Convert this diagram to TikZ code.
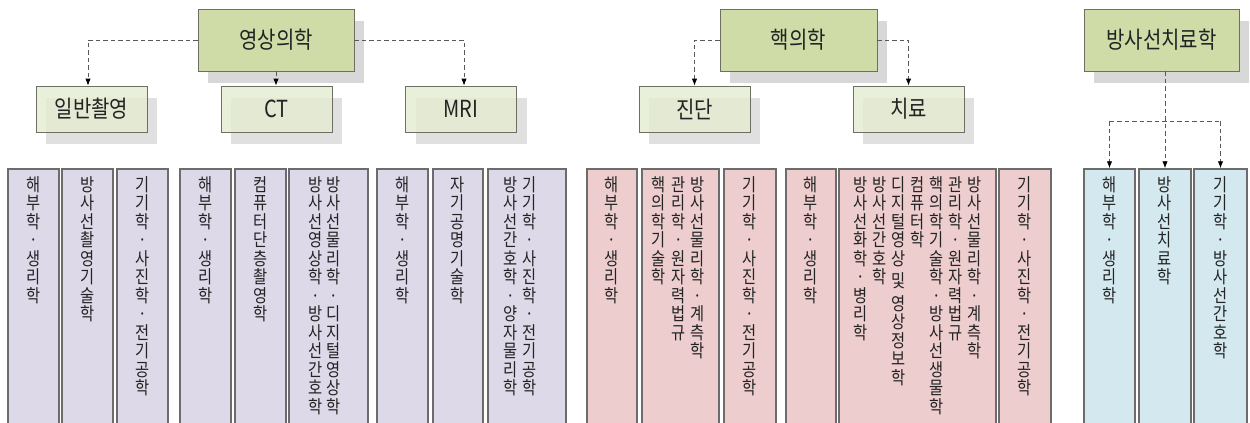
\documentclass[tikz,border=0pt]{standalone}
\usepackage{fontspec}
\setmainfont{Noto Sans CJK KR}
\newfontfamily\krn[FakeStretch=0.85]{Noto Sans CJK KR}
\usetikzlibrary{shadows,arrows.meta}
\definecolor{hdr}{RGB}{207,220,168}
\definecolor{sub}{RGB}{228,236,208}
\definecolor{shd}{RGB}{216,216,216}
\definecolor{lav}{RGB}{222,217,233}
\definecolor{pnk}{RGB}{237,205,205}
\definecolor{blu}{RGB}{211,233,239}
\definecolor{bord}{RGB}{110,110,100}
\definecolor{txt}{RGB}{35,35,35}
\def\SP{SP}
\newcommand\VT[1]{\vtop{\baselineskip=18.5bp\lineskiplimit=-50bp\lineskip=0pt\VTi#1\relax}}
\def\VTi#1{\ifx\relax#1\else\VTone{#1}\expandafter\VTi\fi}
\def\VTone#1{\ifx\SP#1\vskip4bp\relax\else\hbox to 1em{\hss#1\hss}\fi}
\tikzset{
  hdrbox/.style={draw=bord, line width=0.8bp, fill=hdr, minimum width=156bp, minimum height=62bp,
    inner sep=0pt, font=\krn\fontsize{23.5bp}{25bp}\selectfont, text=txt,
    general shadow={fill=shd, shadow xshift=10bp, shadow yshift=-12bp}},
  subbox/.style={draw=bord, line width=0.8bp, fill=sub, fill opacity=0.78, text opacity=1,
    minimum width=111bp, minimum height=46bp, inner sep=0pt,
    font=\krn\fontsize{23.5bp}{25bp}\selectfont, text=txt,
    general shadow={fill=shd, shadow xshift=10bp, shadow yshift=-12bp}},
  colbox/.style={draw=gray!85!black, line width=1.5bp, minimum height=271bp, inner sep=0pt},
  vt/.style={anchor=base, inner sep=0pt, font=\krn\fontsize{18bp}{18.5bp}\selectfont, text=txt},
  dline/.style={draw=gray!70!black, line width=0.9bp, dash pattern=on 4.5bp off 3bp},
  conn/.style={dline, -{Latex[length=7bp,width=5.5bp,color=black]}}
}
\begin{document}
\begin{tikzpicture}[x=1bp,y=-1bp]
\useasboundingbox (0,0) rectangle (1250,422);
\clip (0,0) rectangle (1250,422);
\fill[white] (0,0) rectangle (1250,422);
% header boxes
\node[hdrbox] (ys) at (276,40) {영상의학};
\node[hdrbox, minimum width=157bp] (hk) at (798.5,40) {핵의학};
\node[hdrbox, minimum width=155bp] (rt) at (1161.5,40) {방사선치료학};
% sub boxes
\node[subbox] (ilban) at (91.5,109) {일반촬영};
\node[subbox] (ct) at (276.5,109) {CT};
\node[subbox] (mri) at (461,109) {MRI};
\node[subbox] (jd) at (694.5,109) {진단};
\node[subbox] (cr) at (908.5,109) {치료};
% column boxes
\node[colbox, fill=lav, minimum width=51bp] (p1) at (33.5,304.5) {};
\node[colbox, fill=lav, minimum width=51bp] (p2) at (87.5,304.5) {};
\node[colbox, fill=lav, minimum width=51bp] (p3) at (142.5,304.5) {};
\node[colbox, fill=lav, minimum width=51bp] (p4) at (205.5,304.5) {};
\node[colbox, fill=lav, minimum width=51bp] (p5) at (260.5,304.5) {};
\node[colbox, fill=lav, minimum width=79bp] (p6) at (328.5,304.5) {};
\node[colbox, fill=lav, minimum width=51bp] (p7) at (402.5,304.5) {};
\node[colbox, fill=lav, minimum width=50bp] (p8) at (458,304.5) {};
\node[colbox, fill=lav, minimum width=78bp] (p9) at (527,304.5) {};
\node[colbox, fill=pnk, minimum width=50bp] (k1) at (612,304.5) {};
\node[colbox, fill=pnk, minimum width=77bp] (k2) at (680.5,304.5) {};
\node[colbox, fill=pnk, minimum width=52bp] (k3) at (750,304.5) {};
\node[colbox, fill=pnk, minimum width=50bp] (k4) at (811,304.5) {};
\node[colbox, fill=pnk, minimum width=157bp] (k5) at (917.5,304.5) {};
\node[colbox, fill=pnk, minimum width=52bp] (k6) at (1025,304.5) {};
\node[colbox, fill=blu, minimum width=51bp] (b1) at (1109.5,304.5) {};
\node[colbox, fill=blu, minimum width=52bp] (b2) at (1165,304.5) {};
\node[colbox, fill=blu, minimum width=53bp] (b3) at (1220.5,304.5) {};
% vertical texts
\node[vt] (tp1) at (33.5,191) {\VT{해부학·생리학}};
\node[vt] (tp2) at (87.5,191) {\VT{방사선촬영기술학}};
\node[vt] (tp3) at (142.5,191) {\VT{기기학·사진학·전기공학}};
\node[vt] (tp4) at (205.5,191) {\VT{해부학·생리학}};
\node[vt] (tp5) at (260.5,191) {\VT{컴퓨터단층촬영학}};
\node[vt] (tp6a) at (316,191) {\VT{방사선영상학·방사선간호학}};
\node[vt] (tp6b) at (334,191) {\VT{방사선물리학·디지털영상학}};
\node[vt] (tp7) at (402.5,191) {\VT{해부학·생리학}};
\node[vt] (tp8) at (458,191) {\VT{자기공명기술학}};
\node[vt] (tp9a) at (511,191) {\VT{방사선간호학·양자물리학}};
\node[vt] (tp9b) at (530,191) {\VT{기기학·사진학·전기공학}};
\node[vt] (tk1) at (612,191) {\VT{해부학·생리학}};
\node[vt] (tk2a) at (659,191) {\VT{핵의학기술학}};
\node[vt] (tk2b) at (679,191) {\VT{관리학·원자력법규}};
\node[vt] (tk2c) at (698,191) {\VT{방사선물리학·계측학}};
\node[vt] (tk3) at (750,191) {\VT{기기학·사진학·전기공학}};
\node[vt] (tk4) at (811,191) {\VT{해부학·생리학}};
\node[vt] (tk5a) at (861,191) {\VT{방사선화학·병리학}};
\node[vt] (tk5b) at (880,191) {\VT{방사선간호학}};
\node[vt] (tk5c) at (899,191) {\VT{디지털영상\SP 및\SP 영상정보학}};
\node[vt] (tk5d) at (918,191) {\VT{컴퓨터학}};
\node[vt] (tk5e) at (937,191) {\VT{핵의학기술학·방사선생물학}};
\node[vt] (tk5f) at (956,191) {\VT{관리학·원자력법규}};
\node[vt] (tk5g) at (975,191) {\VT{방사선물리학·계측학}};
\node[vt] (tk6) at (1025,191) {\VT{기기학·사진학·전기공학}};
\node[vt] (tb1) at (1109.5,191) {\VT{해부학·생리학}};
\node[vt] (tb2) at (1165,191) {\VT{방사선치료학}};
\node[vt] (tb3) at (1220.5,191) {\VT{기기학·방사선간호학}};
% connectors
\draw[conn] (ys.west) -| ([xshift=-3.5bp]ilban.north);
\draw[conn] (ys.south) -- (ys.south |- ct.north);
\draw[conn] (ys.east) -| ([xshift=3bp]mri.north);
\draw[conn] (hk.west) -| (jd.north);
\draw[conn] (hk.east) -| (cr.north);
\coordinate (hb) at (1165,121);
\draw[conn] (rt.south -| b2.north) -- (b2.north);
\draw[dline] (b1.north |- hb) -- (b3.north |- hb);
\draw[conn] (b1.north |- hb) -- (b1.north);
\draw[conn] (b3.north |- hb) -- (b3.north);
\end{tikzpicture}
\end{document}
